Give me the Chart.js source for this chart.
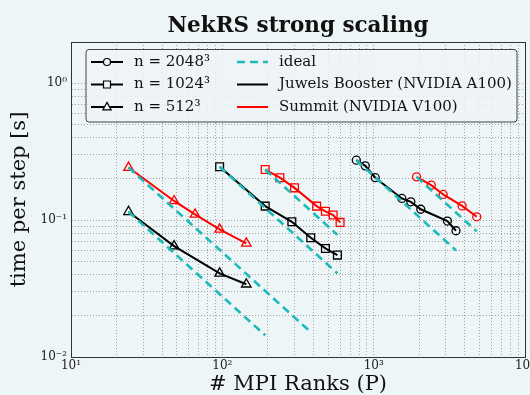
<!DOCTYPE html>
<html>
<head>
<meta charset="utf-8">
<script src="https://cdn.jsdelivr.net/npm/chart.js@4.4.1/dist/chart.umd.min.js"></script>
<style>
  html, body { margin: 0; padding: 0; background: #eef5f6; overflow: hidden; }
  canvas { display: block; }
</style>
</head>
<body>
<canvas id="scalingChart" width="530" height="395"></canvas>
<script>
// === Values (P = MPI ranks, t = time per step [s]) ===
const juwels2048P = [768, 880, 1024, 1536, 1760, 2048, 3072, 3500];
const juwels2048T = [0.274, 0.249, 0.204, 0.144, 0.136, 0.120, 0.0984, 0.0836];
const summit2048P = [1920, 2400, 2880, 3840, 4800];
const summit2048T = [0.207, 0.180, 0.154, 0.127, 0.1057];

const juwels1024P = [96, 192, 288, 384, 480, 576];
const juwels1024T = [0.245, 0.1265, 0.0972, 0.0743, 0.0621, 0.0555];
const summit1024P = [192, 240, 300, 420, 480, 540, 600];
const summit1024T = [0.234, 0.204, 0.172, 0.1265, 0.116, 0.109, 0.0962];

const juwels512P = [24, 48, 96, 144];
const juwels512T = [0.115, 0.0646, 0.0408, 0.034];
const summit512P = [24, 48, 66, 96, 144];
const summit512T = [0.242, 0.138, 0.110, 0.0855, 0.0676];

// ideal lines: start and end point of each dashed line
const idealJuwels2048 = [[768, 0.274], [3500, 0.0601]];
const idealSummit2048 = [[1920, 0.207], [4800, 0.0828]];
const idealJuwels1024 = [[96, 0.245], [576, 0.0408]];
const idealSummit1024 = [[192, 0.234], [576, 0.078]];
const idealJuwels512 = [[24, 0.115], [192, 0.0144]];
const idealSummit512 = [[24, 0.242], [384, 0.0152]];

// axis ticks
const xDecades = [10, 100, 1000, 10000];
const xTickLabels = ["10¹", "10²", "10³", "10⁴"];
const yDecades = [0.01, 0.1, 1];
const yTickLabels = ["10⁻²", "10⁻¹", "10⁰"];

// legend texts
const sizeLabels = ["n = 2048³", "n = 1024³", "n = 512³"];
const styleLabels = ["ideal", "Juwels Booster (NVIDIA A100)", "Summit (NVIDIA V100)"];

const BG = "#eef5f6";
const CYAN = "#1cbaba";
const SERIF = "'DejaVu Serif', serif";

function toPoints(P, T) {
    return P.map((p, i) => ({ x: p, y: T[i] }));
}

function gridTicks(decades) {
    // one grid line at every 1..9 multiple of each decade
    const ticks = [];
    decades.forEach((d, i) => {
        if (i === decades.length - 1) {
            ticks.push({ value: d });
            return;
        }
        for (let m = 1; m < 10; m++) ticks.push({ value: d * m });
    });
    return ticks;
}

function decadeLabel(value, decades, labels) {
    const i = decades.findIndex(d => Math.abs(d - value) / d < 1e-6);
    return i >= 0 ? labels[i] : "";
}

function measured(P, T, color, marker, radius) {
    return {
        data: toPoints(P, T),
        borderColor: color,
        borderWidth: 2,
        pointStyle: marker,
        pointRadius: radius,
        pointBorderWidth: 1.3,
        pointBorderColor: color,
        pointBackgroundColor: "rgba(0,0,0,0)",
        order: 2
    };
}

function ideal(line) {
    return {
        data: line.map(p => ({ x: p[0], y: p[1] })),
        borderColor: CYAN,
        borderWidth: 2.6,
        borderDash: [8, 5],
        pointRadius: 0,
        order: 1
    };
}

// background
const backgroundPlugin = {
    id: "background",
    beforeDraw(chart) {
        const ctx = chart.ctx;
        ctx.save();
        ctx.fillStyle = BG;
        ctx.fillRect(0, 0, chart.width, chart.height);
        ctx.restore();
    }
};

function drawMarker(ctx, style, x, y, r) {
    ctx.beginPath();
    if (style === "circle") {
        ctx.arc(x, y, r, 0, Math.PI * 2);
    } else if (style === "rect") {
        ctx.rect(x - r, y - r, 2 * r, 2 * r);
    } else {
        ctx.moveTo(x, y - r * 1.1);
        ctx.lineTo(x + r, y + r * 0.7);
        ctx.lineTo(x - r, y + r * 0.7);
        ctx.closePath();
    }
    ctx.fill();
    ctx.stroke();
}

// two column legend in the upper part of the axes
const legendPlugin = {
    id: "boxLegend",
    afterDraw(chart) {
        const ctx = chart.ctx;
        const rows = [62, 84.5, 107];
        ctx.save();
        ctx.beginPath();
        ctx.roundRect(86, 49.5, 431, 72.5, 3);
        ctx.fillStyle = "rgba(238,245,246,0.85)";
        ctx.fill();
        ctx.lineWidth = 1;
        ctx.strokeStyle = "#444";
        ctx.stroke();

        ctx.font = "15px " + SERIF;
        ctx.textBaseline = "middle";
        ctx.textAlign = "left";

        const markers = ["circle", "rect", "triangle"];
        const markerSize = [3.5, 3.5, 4.2];
        rows.forEach((y, i) => {
            ctx.strokeStyle = "#000";
            ctx.lineWidth = 2;
            ctx.setLineDash([]);
            ctx.beginPath();
            ctx.moveTo(91, y);
            ctx.lineTo(123, y);
            ctx.stroke();
            ctx.lineWidth = 1.2;
            ctx.fillStyle = BG;
            drawMarker(ctx, markers[i], 107, y, markerSize[i]);
            ctx.fillStyle = "#111";
            ctx.fillText(sizeLabels[i], 134, y);
        });

        const lineColors = [CYAN, "#000", "#ff0000"];
        rows.forEach((y, i) => {
            ctx.strokeStyle = lineColors[i];
            ctx.lineWidth = i === 0 ? 2.6 : 2;
            ctx.setLineDash(i === 0 ? [8, 5] : []);
            ctx.beginPath();
            ctx.moveTo(237, y);
            ctx.lineTo(268, y);
            ctx.stroke();
            ctx.fillStyle = "#111";
            ctx.fillText(styleLabels[i], 279, y);
        });
        ctx.restore();
    }
};

const gridStyle = { color: "#9fa3a5", lineWidth: 1, drawTicks: false };
const frame = { display: true, color: "#333", width: 1, dash: [1, 2] };

new Chart(document.getElementById("scalingChart").getContext("2d"), {
    type: "line",
    data: {
        datasets: [
            ideal(idealJuwels2048),
            ideal(idealSummit2048),
            ideal(idealJuwels1024),
            ideal(idealSummit1024),
            ideal(idealJuwels512),
            ideal(idealSummit512),
            measured(juwels2048P, juwels2048T, "#000", "circle", 4),
            measured(summit2048P, summit2048T, "#ff0000", "circle", 4),
            measured(juwels1024P, juwels1024T, "#000", "rect", 5.5),
            measured(summit1024P, summit1024T, "#ff0000", "rect", 5.5),
            measured(juwels512P, juwels512T, "#000", "triangle", 5.5),
            measured(summit512P, summit512T, "#ff0000", "triangle", 5.5)
        ]
    },
    options: {
        responsive: false,
        animation: false,
        layout: { padding: 0, autoPadding: false },
        scales: {
            x: {
                type: "logarithmic",
                position: "bottom",
                min: 10,
                max: 10000,
                afterBuildTicks: scale => { scale.ticks = gridTicks(xDecades); },
                afterFit: scale => { scale.height = 38; scale.paddingLeft = 0; scale.paddingRight = 0; },
                ticks: {
                    autoSkip: false,
                    maxRotation: 0,
                    padding: 2,
                    color: "#222",
                    font: { family: SERIF, size: 12 },
                    callback: value => decadeLabel(value, xDecades, xTickLabels)
                },
                grid: gridStyle,
                border: frame,
                title: {
                    display: true,
                    text: "# MPI Ranks (P)",
                    color: "#111",
                    font: { family: SERIF, size: 21, lineHeight: 1 },
                    padding: 0
                }
            },
            y: {
                type: "logarithmic",
                position: "left",
                min: 0.01,
                max: 2,
                afterBuildTicks: scale => { scale.ticks = gridTicks(yDecades); },
                afterFit: scale => { scale.width = 71; scale.paddingTop = 0; scale.paddingBottom = 0; },
                ticks: {
                    autoSkip: false,
                    padding: 4,
                    color: "#222",
                    font: { family: SERIF, size: 12 },
                    callback: value => decadeLabel(value, yDecades, yTickLabels)
                },
                grid: gridStyle,
                border: frame,
                title: {
                    display: true,
                    text: "time per step [s]",
                    color: "#111",
                    font: { family: SERIF, size: 21, lineHeight: 1 },
                    padding: { top: 9 }
                }
            },
            // top and right axes only close the frame (top one carries the title)
            x2: {
                type: "linear",
                position: "top",
                min: 0,
                max: 1,
                afterFit: scale => { scale.height = 42; },
                ticks: { display: false },
                grid: { display: false, drawTicks: false },
                border: { display: true, color: "#333", width: 1 },
                title: {
                    display: true,
                    text: "NekRS strong scaling",
                    color: "#111",
                    font: { family: SERIF, size: 21.5, weight: "bold", lineHeight: 1 },
                    padding: { top: 16 }
                }
            },
            y2: {
                type: "linear",
                position: "right",
                min: 0,
                max: 1,
                afterFit: scale => { scale.width = 5; },
                ticks: { display: false },
                grid: { display: false, drawTicks: false },
                border: { display: true, color: "#333", width: 1 }
            }
        },
        plugins: {
            legend: { display: false },
            tooltip: { enabled: false }
        }
    },
    plugins: [backgroundPlugin, legendPlugin]
});
</script>
</body>
</html>
